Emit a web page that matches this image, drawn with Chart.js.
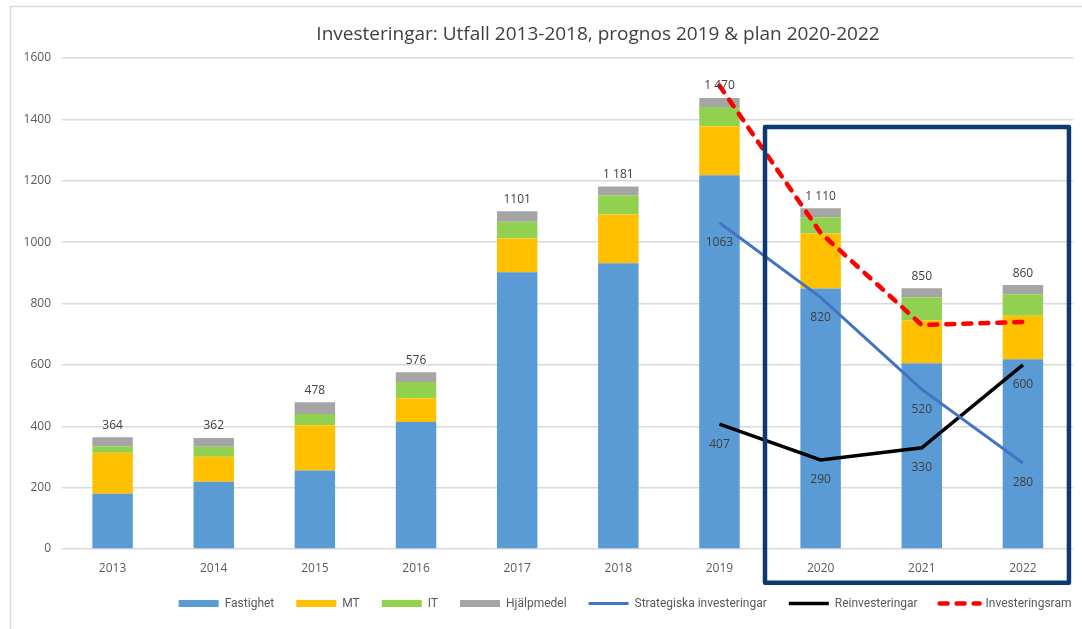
<!DOCTYPE html>
<html>
<head>
<meta charset="utf-8">
<script src="https://cdn.jsdelivr.net/npm/chart.js@4.4.1/dist/chart.umd.min.js"></script>
<style>
  html, body { margin: 0; padding: 0; background: #fff; }
  #wrap { position: relative; width: 1082px; height: 629px; }
</style>
</head>
<body>
<div id="wrap"><canvas id="invChart"></canvas></div>
<script>
// --- DATA ---
const years = ['2013', '2014', '2015', '2016', '2017', '2018', '2019', '2020', '2021', '2022'];
const fastighet  = [180, 219, 256, 414, 902, 931, 1218, 849, 605, 618];
const mt         = [134,  82, 147,  77, 110, 159,  160, 179, 140, 142];
const it         = [ 21,  32,  37,  53,  54,  63,   62,  53,  75,  70];
const hjalpmedel = [ 29,  29,  38,  32,  35,  28,   30,  29,  30,  30];
const totalLabels = ['364', '362', '478', '576', '1101', '1 181', '1 470', '1 110', '850', '860'];
const strategiska     = [null, null, null, null, null, null, 1063, 820, 520, 280];
const reinvesteringar = [null, null, null, null, null, null,  407, 290, 330, 600];
const investeringsram = [null, null, null, null, null, null, 1510, 1030, 730, 740];
const yTicks = [0, 200, 400, 600, 800, 1000, 1200, 1400, 1600];

const titleText = 'Investeringar: Utfall 2013-2018, prognos 2019 & plan 2020-2022';
const textColor = '#595959';

// ram runt diagrammet + titel
const frameAndTitle = {
    id: 'frameAndTitle',
    afterLayout(chart) {
        // legenden sitter lite till hoger i originalet
        chart.legend.left += 20;
        chart.legend.right += 20;
    },
    beforeDraw(chart) {
        const ctx = chart.ctx;
        ctx.save();
        ctx.strokeStyle = '#d9d9d9';
        ctx.lineWidth = 1.5;
        ctx.strokeRect(10.5, 6.5, 1200, 700);
        ctx.restore();
    },
    afterDraw(chart) {
        const ctx = chart.ctx;
        ctx.save();
        ctx.font = '19px "Open Sans"';
        ctx.fillStyle = '#404040';
        ctx.textAlign = 'center';
        ctx.textBaseline = 'middle';
        ctx.fillText(titleText, 598, 35);
        ctx.restore();
    }
};

// markering av planperioden (2020-2022)
const planBox = {
    id: 'planBox',
    afterDatasetsDraw(chart) {
        const x = chart.scales.x, y = chart.scales.y, ctx = chart.ctx;
        const left = x.getPixelForValue(6.45), right = x.getPixelForValue(9.455);
        const top = y.getPixelForValue(1375), bottom = y.getPixelForValue(-110);
        ctx.save();
        ctx.strokeStyle = '#0b3a73';
        ctx.lineWidth = 4.5;
        ctx.lineJoin = 'round';
        ctx.strokeRect(left, top, right - left, bottom - top);
        ctx.restore();
    }
};

// etiketter: summa ovanfor staplar, varden under linjepunkter
const valueLabels = {
    id: 'valueLabels',
    afterDatasetsDraw(chart) {
        const ctx = chart.ctx;
        ctx.save();
        ctx.font = '12px "Open Sans"';
        ctx.fillStyle = '#404040';
        ctx.textAlign = 'center';
        ctx.textBaseline = 'middle';
        chart.getDatasetMeta(3).data.forEach((bar, i) => {
            ctx.fillText(totalLabels[i], bar.x, bar.y - 12);
        });
        [4, 5].forEach(di => {
            chart.getDatasetMeta(di).data.forEach((pt, i) => {
                const v = chart.data.datasets[di].data[i];
                if (v === null) return;
                ctx.fillText(String(v), pt.x, pt.y + 20);
            });
        });
        ctx.restore();
    }
};

const barDefaults = { type: 'bar', stack: 'inv', barPercentage: 0.4, categoryPercentage: 1, borderWidth: 0, order: 2 };
const lineDefaults = { type: 'line', pointRadius: 0, tension: 0, fill: false, order: 1 };

new Chart(document.getElementById('invChart'), {
    data: {
        labels: years,
        datasets: [
            { ...barDefaults, label: 'Fastighet', data: fastighet, backgroundColor: '#5b9bd5' },
            { ...barDefaults, label: 'MT', data: mt, backgroundColor: '#ffc000' },
            { ...barDefaults, label: 'IT', data: it, backgroundColor: '#92d050' },
            { ...barDefaults, label: 'Hjälpmedel', data: hjalpmedel, backgroundColor: '#a5a5a5' },
            { ...lineDefaults, stack: 'strat', label: 'Strategiska investeringar', data: strategiska,
              borderColor: '#4472c4', borderWidth: 3 },
            { ...lineDefaults, stack: 'reinv', label: 'Reinvesteringar', data: reinvesteringar,
              borderColor: '#000000', borderWidth: 3.5 },
            { ...lineDefaults, stack: 'ram', label: 'Investeringsram', data: investeringsram,
              borderColor: '#ff0000', borderWidth: 4.5, borderDash: [8, 9], borderCapStyle: 'round' }
        ]
    },
    options: {
        responsive: true,
        maintainAspectRatio: false,
        animation: false,
        layout: { padding: { top: 58, right: 8.5, bottom: 9.5, left: 0 } },
        scales: {
            x: {
                stacked: true,
                grid: { display: false },
                border: { display: false },
                ticks: { color: textColor, font: { family: 'Open Sans', size: 12 }, padding: 4 },
                afterFit: s => { s.height = 26.5; }
            },
            y: {
                stacked: true,
                min: 0,
                max: 1600,
                border: { display: false },
                grid: { color: '#d9d9d9', lineWidth: 1.5, drawTicks: false },
                ticks: { color: textColor, font: { family: 'Open Sans', size: 12 }, padding: 11, callback: v => String(v) },
                afterBuildTicks: s => { s.ticks = yTicks.map(v => ({ value: v })); },
                afterFit: s => { s.width = 62; }
            }
        },
        plugins: {
            title: { display: false },
            tooltip: { enabled: false },
            legend: {
                position: 'bottom',
                align: 'end',
                labels: {
                    usePointStyle: true,
                    pointStyleWidth: 40,
                    boxHeight: 7,
                    padding: 22,
                    color: textColor,
                    font: { family: 'Roboto', size: 12 },
                    generateLabels(chart) {
                        return chart.data.datasets.map((ds, i) => {
                            const isLine = ds.type === 'line';
                            return {
                                text: ds.label,
                                datasetIndex: i,
                                pointStyle: isLine ? 'line' : 'rect',
                                fillStyle: isLine ? ds.borderColor : ds.backgroundColor,
                                strokeStyle: isLine ? ds.borderColor : ds.backgroundColor,
                                lineWidth: isLine ? ds.borderWidth : 0,
                                lineDash: ds.borderDash || [],
                                lineCap: ds.borderCapStyle || 'butt',
                                fontColor: textColor,
                                hidden: false
                            };
                        });
                    }
                }
            }
        }
    },
    plugins: [frameAndTitle, planBox, valueLabels]
});
</script>
</body>
</html>
